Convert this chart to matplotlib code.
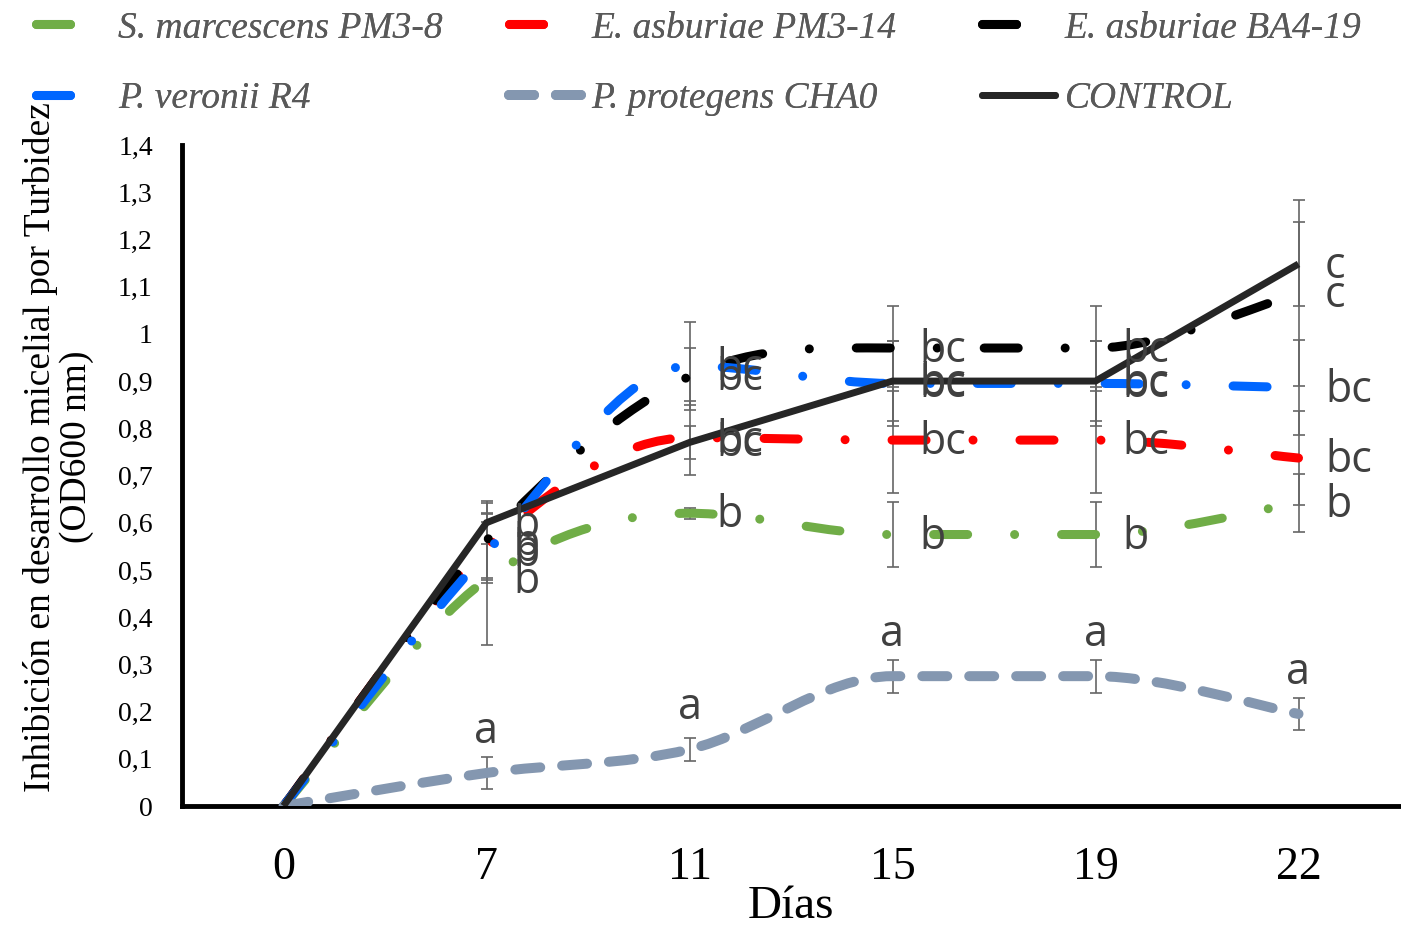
import matplotlib
matplotlib.use('Agg')
import matplotlib.pyplot as plt
import numpy as np
from matplotlib.path import Path
from matplotlib.patches import PathPatch
from matplotlib.lines import Line2D

plt.rcParams['lines.scale_dashes'] = False

# ---------------- data ----------------
days = ['0', '7', '11', '15', '19', '22']
y_ticks = [0, 0.1, 0.2, 0.3, 0.4, 0.5, 0.6, 0.7, 0.8, 0.9, 1.0, 1.1, 1.2, 1.3, 1.4]
y_tick_labels = ['0', '0,1', '0,2', '0,3', '0,4', '0,5', '0,6', '0,7', '0,8', '0,9',
                 '1', '1,1', '1,2', '1,3', '1,4']

name_green = 'S. marcescens PM3-8'
name_red = 'E. asburiae PM3-14'
name_black = 'E. asburiae BA4-19'
name_blue = 'P. veronii R4'
name_grey = 'P. protegens CHA0'
name_ctrl = 'CONTROL'

green_vals = [0, 0.48, 0.62, 0.575, 0.575, 0.642]
green_err = [0, 0.14, 0.012, 0.069, 0.069, 0.061]
green_lbl = ['', 'b', 'b', 'b', 'b', 'b']

red_vals = [0, 0.548, 0.78, 0.775, 0.775, 0.737]
red_err = [0, 0.07, 0.078, 0.113, 0.113, 0.10]
red_lbl = ['', 'b', 'bc', 'bc', 'bc', 'bc']

black_vals = [0, 0.562, 0.91, 0.97, 0.97, 1.086]
black_err = [0, 0.08, 0.06, 0.09, 0.09, 0.197]
black_lbl = ['', 'b', 'bc', 'bc', 'bc', 'c']

blue_vals = [0, 0.537, 0.932, 0.895, 0.895, 0.886]
blue_err = [0, 0.065, 0.094, 0.09, 0.09, 0.10]
blue_lbl = ['', 'b', 'bc', 'bc', 'bc', 'bc']

grey_vals = [0, 0.07, 0.12, 0.275, 0.275, 0.195]
grey_err = [0, 0.034, 0.024, 0.035, 0.035, 0.034]
grey_lbl = ['', 'a', 'a', 'a', 'a', 'a']

ctrl_vals = [0, 0.60, 0.77, 0.90, 0.90, 1.148]
ctrl_err = [0, 0.045, 0.035, 0.085, 0.085, 0.088]
ctrl_lbl = ['', 'b', 'bc', 'bc', 'bc', 'c']

# ---------------- styles ----------------
C_GREEN = '#70AD47'
C_RED = '#FF0000'
C_BLACK = '#000000'
C_BLUE = '#0066FF'
C_GREY = '#8497B0'
C_CTRL = '#262626'
C_ERR = '#666666'
C_LBL = '#404040'

LW = 6.5
DASHDOT = (0, (24.5, 33.8, 0.01, 33.8))
DASH = (0, (18.0, 15.8))

W, H = 1401, 926
fig = plt.figure(figsize=(W / 100, H / 100), dpi=100)
ax = fig.add_axes([182 / W, 1 - 806 / H, (1400 - 182) / W, (806 - 145) / H])

x = np.arange(len(days))


def smooth_path(xs, ys):
    """Smoothed curve (Bezier) through the data points, flat tangents at extrema."""
    pts = np.column_stack([xs, ys]).astype(float)
    n = len(pts)
    tang = np.zeros_like(pts)
    for i in range(n):
        a = pts[i - 1] if i > 0 else pts[i]
        b = pts[i + 1] if i < n - 1 else pts[i]
        t = (b - a) / 2.0
        if 0 < i < n - 1:
            d1 = pts[i, 1] - pts[i - 1, 1]
            d2 = pts[i + 1, 1] - pts[i, 1]
            if d1 * d2 <= 0:
                t[1] = 0.0
        tang[i] = t
    verts = [pts[0]]
    codes = [Path.MOVETO]
    for i in range(n - 1):
        c1 = pts[i] + tang[i] / 3.0
        c2 = pts[i + 1] - tang[i + 1] / 3.0
        verts += [c1, c2, pts[i + 1]]
        codes += [Path.CURVE4] * 3
    return Path(verts, codes)


def add_errors(vals, err):
    ax.errorbar(x[1:], vals[1:], yerr=err[1:], fmt='none', ecolor=C_ERR,
                elinewidth=1.2, capsize=4.5, capthick=1.2, zorder=2)


series = [
    (green_vals, green_err, C_GREEN, DASHDOT, LW, name_green),
    (red_vals, red_err, C_RED, DASHDOT, LW, name_red),
    (black_vals, black_err, C_BLACK, DASHDOT, LW, name_black),
    (blue_vals, blue_err, C_BLUE, DASHDOT, LW, name_blue),
    (grey_vals, grey_err, C_GREY, DASH, 7.2, name_grey),
]

handles = {}
for k, (vals, err, col, ls, lw, name) in enumerate(series):
    add_errors(vals, err)
    patch = PathPatch(smooth_path(x, vals), fill=False, edgecolor=col, lw=lw,
                      linestyle=ls, capstyle='round', joinstyle='round', zorder=3 + k * 0.1)
    ax.add_patch(patch)
    handles[name] = Line2D([], [], color=col, lw=lw, linestyle=ls,
                           dash_capstyle='round', solid_capstyle='round')

add_errors(ctrl_vals, ctrl_err)
ax.plot(x, ctrl_vals, color=C_CTRL, lw=5.0, solid_joinstyle='miter',
        solid_capstyle='butt', zorder=4)
handles[name_ctrl] = Line2D([], [], color=C_CTRL, lw=5.0, solid_capstyle='round')

# letters
lbl_font = dict(family='Open Sans', fontsize=31, color=C_LBL)
for vals, lbls in [(green_vals, green_lbl), (red_vals, red_lbl), (black_vals, black_lbl),
                   (blue_vals, blue_lbl), (ctrl_vals, ctrl_lbl)]:
    for i in range(len(days)):
        if lbls[i]:
            ax.annotate(lbls[i], (x[i], vals[i]), xytext=(19, -2), textcoords='offset points',
                        ha='left', va='center', zorder=6, **lbl_font)
for i in range(len(days)):
    if grey_lbl[i]:
        ax.annotate(grey_lbl[i], (x[i], grey_vals[i]), xytext=(0, 30), textcoords='offset points',
                    ha='center', va='center', zorder=6, **lbl_font)

# axes
ax.set_xlim(-0.5, len(days) - 0.5)
ax.set_ylim(0, 1.4)
ax.set_xticks(x)
ax.set_xticklabels(days, family='Liberation Serif', fontsize=33)
ax.set_yticks(y_ticks)
ax.set_yticklabels(y_tick_labels, family='Liberation Serif', fontsize=20)
ax.tick_params(axis='x', length=0, pad=29)
ax.tick_params(axis='y', length=0, pad=21)
for s in ['top', 'right']:
    ax.spines[s].set_visible(False)
for s in ['left', 'bottom']:
    ax.spines[s].set_linewidth(3.5)
    ax.spines[s].set_color('black')
ax.set_xlabel('Días', family='Liberation Serif', fontsize=34)
ax.xaxis.label.set_va('center')
ax.xaxis.set_label_coords(0.5, (806 - 907) / 661)
ax.set_ylabel('Inhibición en desarrollo micelial por Turbidez\n(OD600 nm)',
              family='Liberation Serif', fontsize=27, linespacing=1.05)
ax.yaxis.set_label_coords((94 - 182) / 1218, 0.543)

# legends: three columns
cols = [([name_green, name_blue], 36), ([name_red, name_grey], 509), ([name_black, name_ctrl], 982)]
for names, xpix in cols:
    leg = fig.legend([handles[n] for n in names], names, loc='upper left',
                     bbox_to_anchor=(xpix / W, 1 - 11 / H), frameon=False, borderpad=0,
                     borderaxespad=0, handlelength=1.95, handletextpad=0.25,
                     labelspacing=0.95,
                     prop=dict(family='Liberation Serif', style='italic', size=27))
    for t in leg.get_texts():
        t.set_color('#595959')
    fig.add_artist(leg)

fig.savefig('out.png', dpi=100)
